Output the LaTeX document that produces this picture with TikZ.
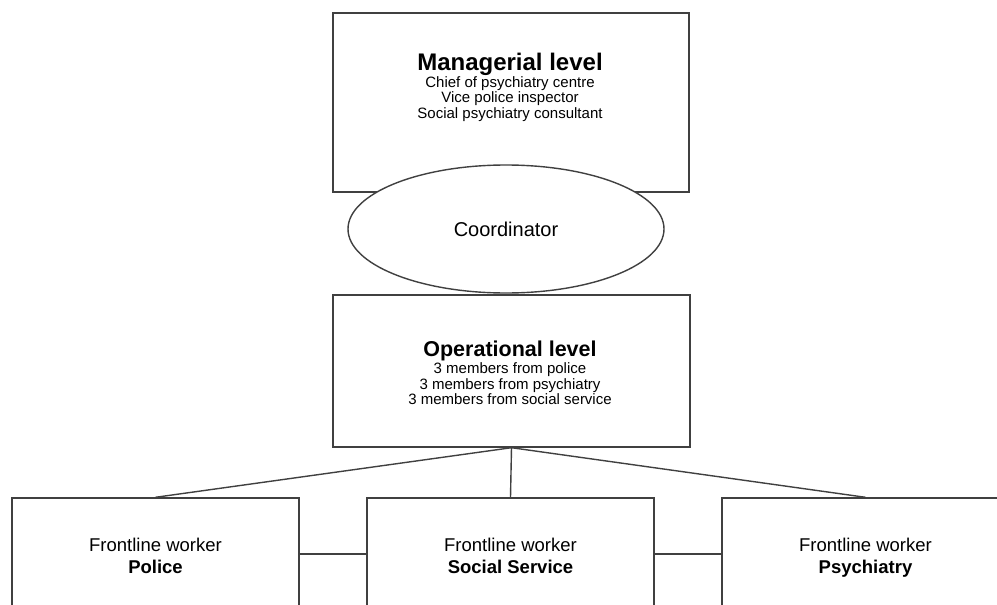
\documentclass[tikz,border=0pt]{standalone}
\usepackage{fontspec}
\setmainfont{Liberation Sans}
\usetikzlibrary{shapes.geometric}

\begin{document}
\begin{tikzpicture}[x=1pt,y=-1pt,
    box/.style={draw=black!75,line width=1.4pt,fill=white,rectangle,inner sep=0pt},
    link/.style={draw=black!75,line width=1.4pt},
    boxtext/.style={align=center,inner sep=0pt,font=\fontsize{15}{15.5}\selectfont},
    worker/.style={align=center,inner sep=0pt,font=\fontsize{18.5}{22}\selectfont}]

  \useasboundingbox (0,0) rectangle (997,605);

  % the two levels
  \node (mgr) at (511,102.5) [box,minimum width=356,minimum height=179] {};
  \node (mgrtext) at (510,87) [boxtext]
    {{\fontsize{24}{24}\selectfont\bfseries Managerial level}\\
     Chief of psychiatry centre\\ Vice police inspector\\ Social psychiatry consultant};

  \node (oper) at (511.5,371) [box,minimum width=357,minimum height=152] {};
  \node (opertext) at (510,373) [boxtext]
    {{\fontsize{21.5}{21.5}\selectfont\bfseries Operational level}\\[1.5pt]
     3 members from police\\ 3 members from psychiatry\\ 3 members from social service};

  \node (coord) at (506,229) [box,ellipse,minimum width=316,minimum height=128,
    font=\fontsize{20}{20}\selectfont] {Coordinator};

  % frontline workers
  \node (police) at (155.5,554) [box,minimum width=287,minimum height=112] {};
  \node (social) at (510.5,554) [box,minimum width=287,minimum height=112] {};
  \node (psych)  at (865.5,554) [box,minimum width=287,minimum height=112] {};

  \node (policetext) at (155.5,556) [worker] {Frontline worker\\ \textbf{Police}};
  \node (socialtext) at (510.5,556) [worker] {Frontline worker\\ \textbf{Social Service}};
  \node (psychtext)  at (865.5,558) [worker] {Frontline worker\\ \textbf{Psychiatry}};

  \draw[link] (oper.south) -- (police.north);
  \draw[link] (oper.south) -- (social.north);
  \draw[link] (oper.south) -- (psych.north);
  \draw[link] (police.east) -- (social.west);
  \draw[link] (social.east) -- (psych.west);

\end{tikzpicture}
\end{document}
